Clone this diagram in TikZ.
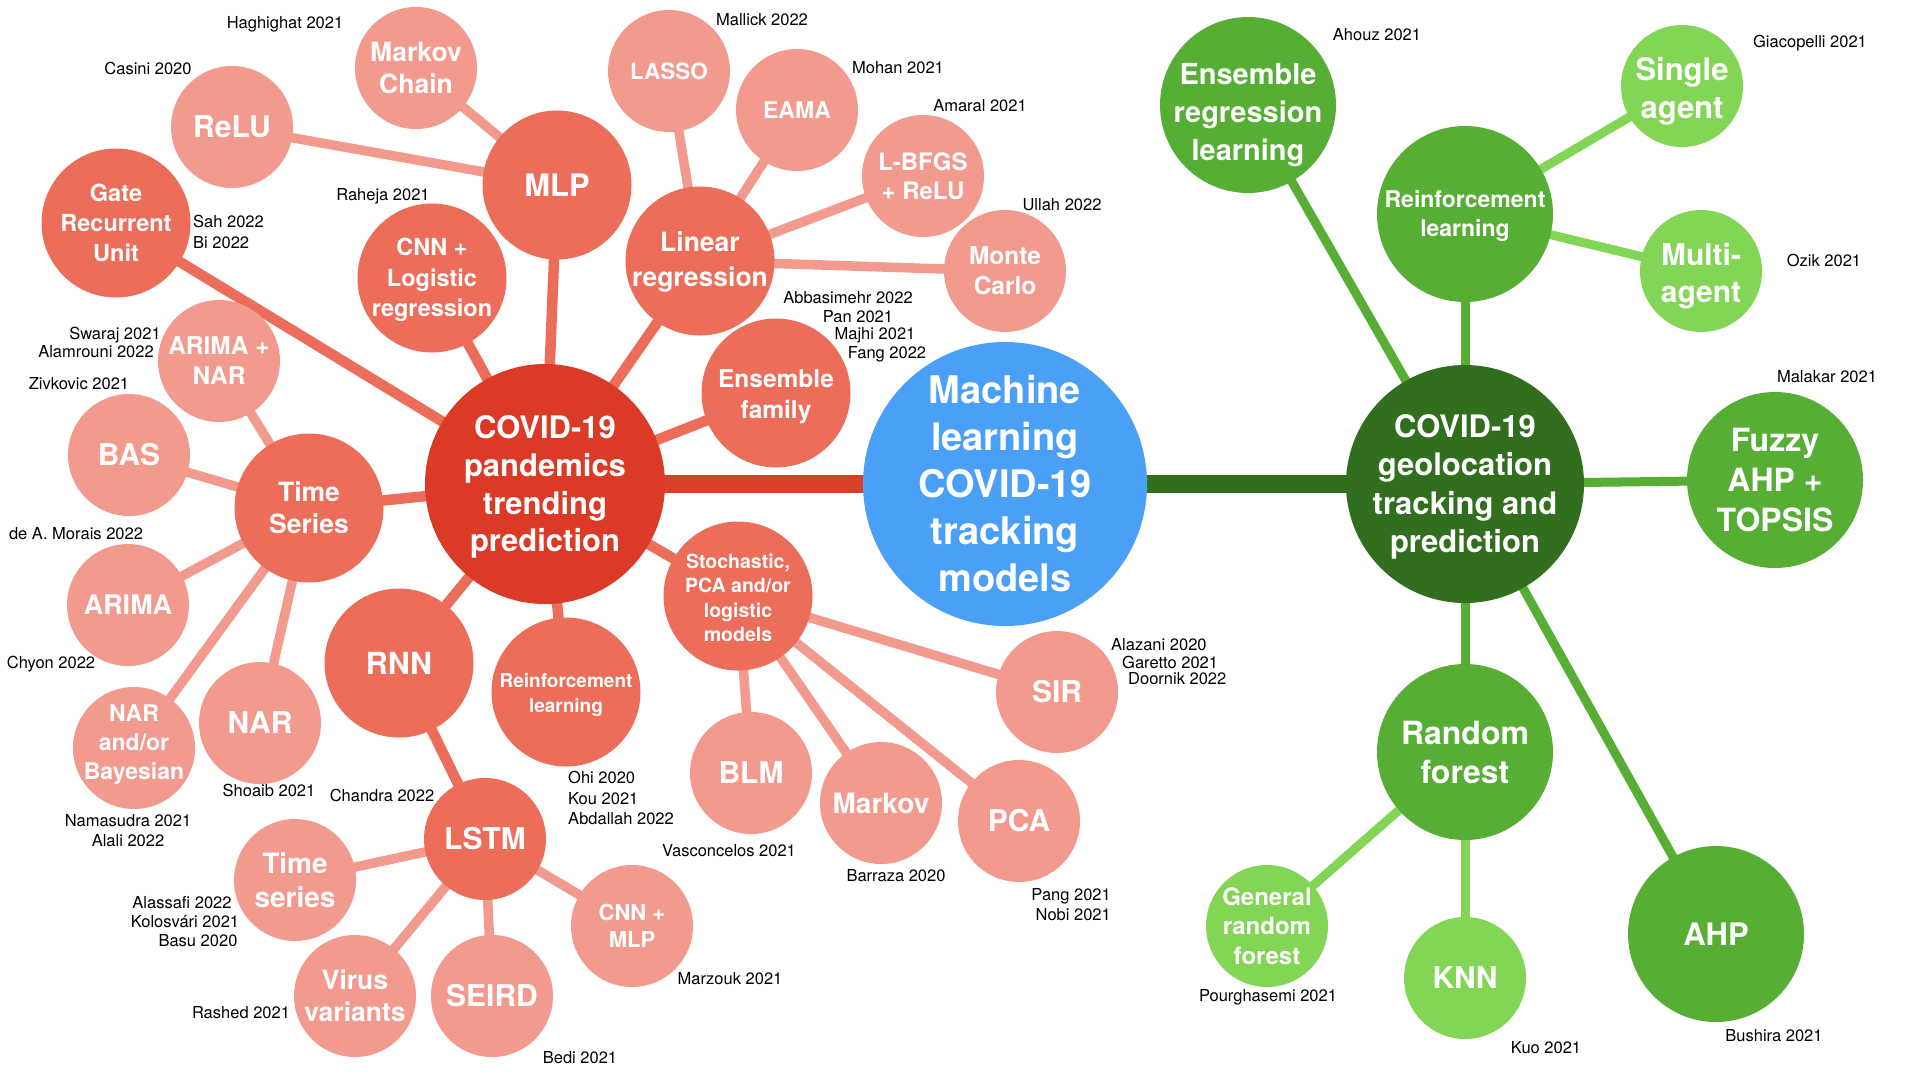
\documentclass[tikz,border=0pt]{standalone}
\usepackage{fontspec}
\setmainfont{TeX Gyre Heros}
\usetikzlibrary{backgrounds}
\definecolor{mlblue}{HTML}{49A0F6}
\definecolor{redroot}{HTML}{DA3A26}
\definecolor{redline}{HTML}{D7402A}
\definecolor{redtwo}{HTML}{EC6E5A}
\definecolor{redthree}{HTML}{F29A8E}
\definecolor{grdark}{HTML}{316F1F}
\definecolor{grmid}{HTML}{56AE35}
\definecolor{grlight}{HTML}{83D555}
\newcommand\fsz[1]{\fontsize{#1pt}{\dimexpr #1pt*122/100\relax}\selectfont}
\newcommand\dn[1]{\rule{0pt}{\dimexpr 0.74em+#1pt+#1pt\relax}}
\newcommand\up[1]{\rule[-\dimexpr 0.21em+#1pt+#1pt\relax]{0pt}{0pt}}
\tikzset{
  bub/.style={circle, inner sep=-40pt, text=white, align=center},
  fs/.style={font=\bfseries\fsz{#1}},
  fsl/.style n args={2}{font=\bfseries\fontsize{#1pt}{#2pt}\selectfont},
  rtwo/.style={bub, fill=redtwo, minimum size=149pt},
  rtwos/.style={bub, fill=redtwo, minimum size=122pt},
  rthree/.style={bub, fill=redthree, minimum size=122pt},
  gtwo/.style={bub, fill=grmid, minimum size=176pt},
  gthree/.style={bub, fill=grlight, minimum size=122pt},
  cite/.style={font=\fsz{16.5}, inner sep=0pt, text=black},
  emain/.style={line width=17.5pt},
  etwo/.style={line width=10.5pt, redtwo},
  ethree/.style={line width=9.5pt, redthree},
  gtwoline/.style={line width=9pt, grmid},
  gthreeline/.style={line width=9pt, grlight}
}
\begin{document}
\begin{tikzpicture}[x=1pt,y=-1pt]
\useasboundingbox (0,0) rectangle (1920,1080);
% main nodes
\node[bub, fill=mlblue, minimum size=284pt, fsl={38}{47}] (ml) at (1005,484) {Machine\\learning\\COVID-19\\tracking\\models};
\node[bub, fill=redroot, minimum size=240pt, fsl={31}{37.8}] (pand) at (545,484) {\dn{3}COVID-19\\pandemics\\trending\\prediction};
\node[bub, fill=grdark, minimum size=238pt, fsl={31}{38.3}] (geo) at (1465,484) {\dn{3}COVID-19\\geolocation\\tracking and\\prediction};
% red level two
\node[rtwo, fsl={23.5}{30}] (gru) at (116,223) {Gate\\Recurrent\\Unit};
\node[rtwo, fs=31] (mlp) at (557,185) {MLP};
\node[rtwo, fsl={23.5}{30.5}] (cnnlog) at (432,278) {\dn{2}CNN +\\Logistic\\regression};
\node[rtwo, fsl={26.5}{35.5}] (linreg) at (700,261) {\dn{1}Linear\\regression};
\node[rtwo, fsl={24.5}{30.6}] (ensfam) at (776,393) {\dn{3.5}Ensemble\\family};
\node[rtwo, fsl={19.5}{24.5}] (stoch) at (738,596) {\dn{2}Stochastic,\\PCA and/or\\logistic\\models};
\node[rtwo, fsl={19}{25}] (rlred) at (566,692) {\dn{3.5}Reinforcement\\learning};
\node[rtwo, fs=30.5] (rnn) at (399,663) {RNN};
\node[rtwo, fs=26.5] (ts) at (309,508) {Time\\Series};
\node[rtwos, fs=30] (lstm) at (485,839) {LSTM};
% red level three
\node[rthree, fs=30] (relu) at (232,127) {ReLU};
\node[rthree, fs=26.5] (mchain) at (416,68) {Markov\\Chain};
\node[rthree, fs=22.5] (lasso) at (669,71) {LASSO};
\node[rthree, fs=23] (eama) at (797,110) {EAMA};
\node[rthree, fs=24] (lbfgs) at (923,176) {L-BFGS\\+ ReLU};
\node[rthree, fs=24.5] (monte) at (1005,271) {Monte\\Carlo};
\node[rthree, fs=24.5] (arimanar) at (219,361) {ARIMA +\\NAR};
\node[rthree, fs=30] (bas) at (129,455) {BAS};
\node[rthree, fs=27] (arima) at (128,605) {ARIMA};
\node[rthree, fsl={23}{29.4}] (narbay) at (134,748) {NAR\\and/or\\Bayesian\up{3.5}};
\node[rthree, fs=30] (nar) at (260,723) {NAR};
\node[rthree, fs=28] (tsl) at (295,880) {Time\\series};
\node[rthree, fs=26.5] (virus) at (355,996) {Virus\\variants};
\node[rthree, fs=30] (seird) at (492,996) {SEIRD};
\node[rthree, fs=22] (cnnmlp) at (632,926) {CNN +\\MLP};
\node[rthree, fs=30] (blm) at (751,773) {BLM};
\node[rthree, fs=28] (markov) at (881,803) {Markov};
\node[rthree, fs=30] (pca) at (1019,821) {PCA};
\node[rthree, fs=30] (sir) at (1057,692) {SIR};
% green level two
\node[gtwo, fsl={29}{38}] (ensreg) at (1248,105) {\dn{9.7}Ensemble\\regression\\learning};
\node[gtwo, fsl={23}{29.4}] (rlg) at (1465,214) {\dn{2}Reinforcement\\learning};
\node[gtwo, fsl={32}{39.8}] (fuzzy) at (1775,480) {Fuzzy\\AHP +\\TOPSIS};
\node[gtwo, fs=32] (rf) at (1465,752) {Random\\forest};
\node[gtwo, fs=31] (ahp) at (1716,934) {AHP};
% green level three
\node[gthree, fs=31] (single) at (1682,86) {\dn{5}Single\\agent};
\node[gthree, fs=30] (multi) at (1701,271) {\dn{5}Multi-\\agent};
\node[gthree, fs=24] (grf) at (1267,926) {General\\random\\forest};
\node[gthree, fs=30] (knn) at (1465,978) {KNN};
% citations
\node[cite] (c1) at (285,24) {Haghighat 2021};
\node[cite] (c2) at (148,68) {Casini 2020};
\node[cite] (c3) at (383,196) {Raheja 2021};
\node[cite, anchor=west, align=left] (c4) at (193,232) {Sah 2022\\Bi 2022};
\node[cite] (c5) at (115,335) {Swaraj 2021};
\node[cite] (c6) at (96,352) {Alamrouni 2022};
\node[cite] (c7) at (79,384) {Zivkovic 2021};
\node[cite] (c8) at (76,534) {de A. Morais 2022};
\node[cite] (c9) at (51,664) {Chyon 2022};
\node[cite] (c10) at (269,790) {Shoaib 2021};
\node[cite, align=center] (c11) at (128,831) {Namasudra 2021\\Alali 2022};
\node[cite] (c12) at (382,795) {Chandra 2022};
\node[cite, anchor=west, align=left] (c13) at (568,798) {Ohi 2020\\Kou 2021\\Abdallah 2022};
\node[cite] (c14) at (182,903) {Alassafi 2022};
\node[cite] (c15) at (185,922) {Kolosvári 2021};
\node[cite] (c16) at (198,941) {Basu 2020};
\node[cite] (c17) at (241,1013) {Rashed 2021};
\node[cite] (c18) at (580,1058) {Bedi 2021};
\node[cite] (c19) at (730,979) {Marzouk 2021};
\node[cite] (c20) at (729,851) {Vasconcelos 2021};
\node[cite] (c21) at (896,876) {Barraza 2020};
\node[cite, anchor=east, align=right] (c22) at (1111,905) {Pang 2021\\Nobi 2021};
\node[cite, anchor=west] (c23) at (1111,645) {Alazani 2020};
\node[cite, anchor=west] (c24) at (1122,662) {Garetto 2021};
\node[cite, anchor=west] (c25) at (1128,679) {Doornik 2022};
\node[cite] (c26) at (848,298) {Abbasimehr 2022};
\node[cite] (c27) at (858,317) {Pan 2021};
\node[cite] (c28) at (875,335) {Majhi 2021};
\node[cite] (c29) at (887,354) {Fang 2022};
\node[cite] (c30) at (762,20) {Mallick 2022};
\node[cite] (c31) at (898,68) {Mohan 2021};
\node[cite] (c32) at (980,106) {Amaral 2021};
\node[cite] (c33) at (1062,205) {Ullah 2022};
\node[cite] (c34) at (1377,35) {Ahouz 2021};
\node[cite] (c35) at (1810,43) {Giacopelli 2021};
\node[cite] (c36) at (1824,260) {Ozik 2021};
\node[cite] (c37) at (1827,377) {Malakar 2021};
\node[cite] (c38) at (1268,997) {Pourghasemi 2021};
\node[cite] (c39) at (1546,1048) {Kuo 2021};
\node[cite] (c40) at (1774,1036) {Bushira 2021};
% connectors
\begin{scope}[on background layer]
\fill[white] (0,0) rectangle (1920,1080);
\draw[emain, redline] (ml.center) -- (pand.center);
\draw[emain, grdark] (ml.center) -- (geo.center);
\foreach \n in {gru,mlp,cnnlog,linreg,ensfam,stoch,rlred,rnn,ts}
  \draw[etwo] (pand.center) -- (\n.center);
\draw[etwo] (rnn.center) -- (lstm.center);
\foreach \n in {relu,mchain} \draw[ethree] (mlp.center) -- (\n.center);
\foreach \n in {lasso,eama,lbfgs,monte} \draw[ethree] (linreg.center) -- (\n.center);
\foreach \n in {arimanar,bas,arima,narbay,nar} \draw[ethree] (ts.center) -- (\n.center);
\foreach \n in {tsl,virus,seird,cnnmlp} \draw[ethree] (lstm.center) -- (\n.center);
\foreach \n in {blm,markov,pca,sir} \draw[ethree] (stoch.center) -- (\n.center);
\foreach \n in {ensreg,rlg,fuzzy,rf,ahp} \draw[gtwoline] (geo.center) -- (\n.center);
\foreach \n in {single,multi} \draw[gthreeline] (rlg.center) -- (\n.center);
\foreach \n in {grf,knn} \draw[gthreeline] (rf.center) -- (\n.center);
\end{scope}
\end{tikzpicture}
\end{document}
